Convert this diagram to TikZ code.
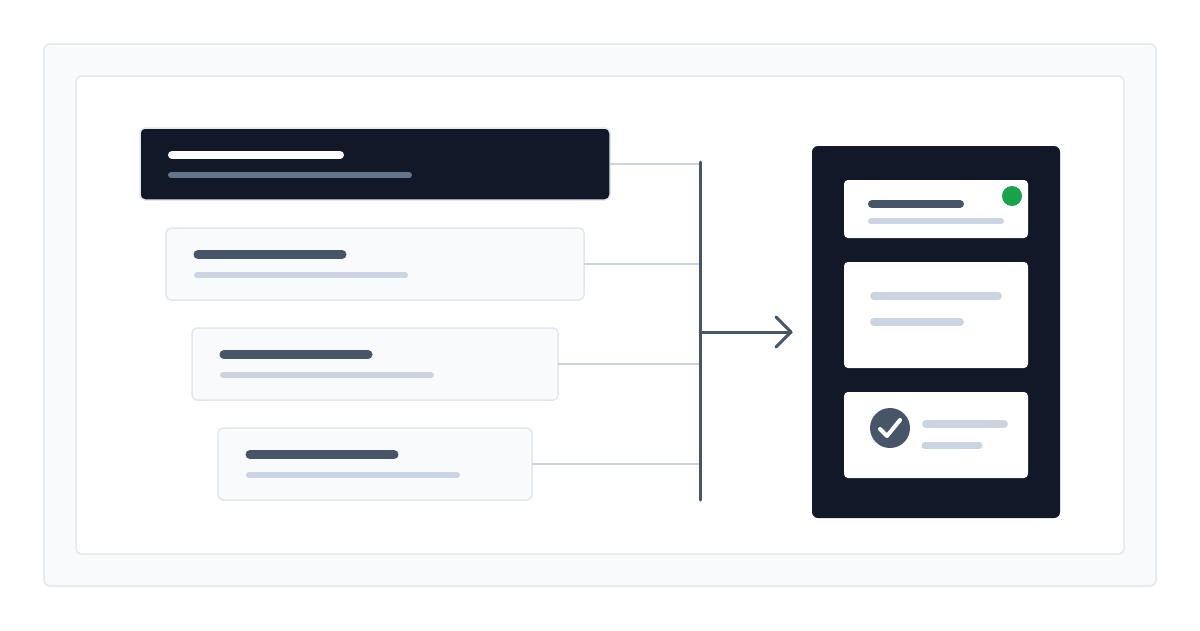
\documentclass[tikz,border=0pt]{standalone}
\usetikzlibrary{positioning}
\definecolor{navy}{HTML}{111827}
\definecolor{slate}{HTML}{475569}
\definecolor{mid}{HTML}{64748B}
\definecolor{light}{HTML}{CBD5E1}
\definecolor{edge}{HTML}{E2E8F0}
\definecolor{paper}{HTML}{F8FAFC}
\definecolor{grn}{HTML}{16A34A}
\begin{document}
\begin{tikzpicture}[x=1pt,y=-1pt,
  box/.style={rectangle,anchor=north west,inner sep=0pt,outer sep=0pt,rounded corners=#1},
  card/.style={box=5pt,fill=paper,draw=edge,line width=1.5pt},
  bar/.style={line cap=round,line width=#1},
  conn/.style={draw=light,line width=2pt}]
\useasboundingbox (0,0) rectangle (1200,630);
\fill[white] (0,0) rectangle (1200,630);
\node[box=6pt,fill=paper,draw=edge,line width=1.5pt,minimum width=1112pt,minimum height=542pt] (outer) at (44,44) {};
\node[box=5pt,fill=white,draw=edge,line width=1.5pt,minimum width=1048pt,minimum height=478pt] (inner) at (76,76) {};
% cards
\node[box=5pt,fill=navy,draw=edge,line width=1.5pt,minimum width=470pt,minimum height=72pt] (c1) at (140,128) {};
\node[card,minimum width=418pt,minimum height=72pt] (c2) at (166,228) {};
\node[card,minimum width=366pt,minimum height=72pt] (c3) at (192,328) {};
\node[card,minimum width=314pt,minimum height=72pt] (c4) at (218,428) {};
\draw[bar=8pt,white] (172,155) -- (340,155);
\draw[bar=6pt,mid] (171,175) -- (409,175);
\foreach \y/\x in {250/194,350/220,450/246}{
  \draw[bar=9pt,slate] (\x+4,\y+4.5) -- (\x+148,\y+4.5);
  \draw[bar=6pt,light] (\x+3,\y+25) -- (\x+211,\y+25);
}
% bus
\coordinate (b1) at (700,164);\coordinate (b2) at (700,264);
\coordinate (b3) at (700,364);\coordinate (b4) at (700,464);
\coordinate (btop) at (700,162);\coordinate (bbot) at (700,500);
\coordinate (bmid) at (700,332);
\draw[conn] (c1.east|-b1) -- (b1);
\draw[conn] (c2.east|-b2) -- (b2);
\draw[conn] (c3.east|-b3) -- (b3);
\draw[conn] (c4.east|-b4) -- (b4);
\draw[slate,line width=3pt,line cap=round] (btop) -- (bbot);
% panel
\node[box=6pt,fill=navy,minimum width=248pt,minimum height=372pt] (panel) at (812,146) {};
\coordinate (tip) at (791,332);
\draw[slate,line width=3pt,line cap=round] (bmid) -- (tip);
\draw[slate,line width=3pt,line cap=round,line join=round] (776,317) -- (tip) -- (776,347);
\node[box=4pt,fill=white,minimum width=184pt,minimum height=58pt] (pa) at (844,180) {};
\node[box=4pt,fill=white,minimum width=184pt,minimum height=106pt] (pb) at (844,262) {};
\node[box=4pt,fill=white,minimum width=184pt,minimum height=86pt] (pc) at (844,392) {};
\draw[bar=8pt,slate] (872,204) -- (960,204);
\draw[bar=6pt,light] (871,221) -- (1001,221);
\node[circle,fill=grn,minimum size=20pt,inner sep=0pt] (dot) at (1012,196) {};
\draw[bar=8pt,light] (874,296) -- (998,296);
\draw[bar=8pt,light] (874,322) -- (960,322);
\node[circle,fill=slate,minimum size=40pt,inner sep=0pt] (chk) at (890,428) {};
\draw[white,line width=4pt,line cap=round,line join=round] (880,429) -- (887,436) -- (900,420);
\draw[bar=8pt,light] (926,424) -- (1004,424);
\draw[bar=7pt,light] (925,445.5) -- (979,445.5);
\end{tikzpicture}
\end{document}
